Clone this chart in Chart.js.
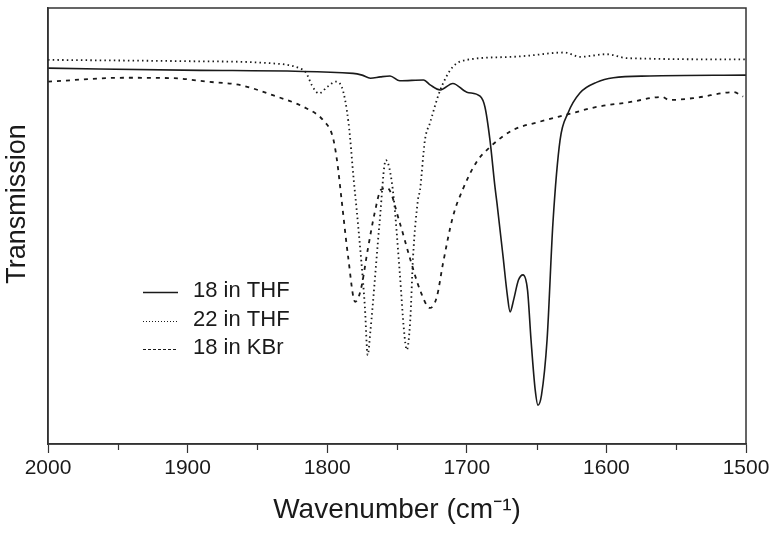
<!DOCTYPE html>
<html>
<head>
<meta charset="utf-8">
<script src="https://cdn.jsdelivr.net/npm/chart.js@4.4.1/dist/chart.umd.min.js"></script>
<style>
  html, body { margin: 0; padding: 0; background: #fff; }
  #wrap { width: 780px; height: 533px; }
</style>
</head>
<body>
<div id="wrap"><canvas id="ir"></canvas></div>
<script>
// IR spectra (transmission in arbitrary units, 0 = bottom of frame, 100 = top)
const labels = ['18 in THF', '22 in THF', '18 in KBr'];
const xTicks = [2000, 1900, 1800, 1700, 1600, 1500];

const thf18Wn = [2000, 1891, 1781.5, 1775, 1769, 1762, 1755, 1748, 1731, 1726, 1719, 1710, 1700, 1690.5, 1687,
  1683.4, 1679.8, 1678.4, 1674, 1671, 1669, 1666.5, 1663, 1659.7, 1656.5, 1654, 1651, 1649, 1646.5, 1642.5,
  1638.3, 1633.2, 1627.5, 1619, 1606.7, 1595, 1569, 1500];
const thf18T = [86.2, 85.7, 85.0, 84.6, 83.9, 84.2, 84.4, 83.3, 83.5, 82.3, 81.2, 82.7, 80.7, 79.8, 77.3,
  69.7, 58.9, 55.3, 42.9, 34.2, 30.3, 33.0, 37.6, 38.8, 35.3, 23.9, 12.4, 8.9, 11.2, 23.9,
  50.7, 69.7, 75.9, 80.5, 83.0, 84.0, 84.4, 84.6];

const thf22Wn = [2000, 1900, 1839, 1820, 1815, 1811, 1806, 1800, 1794, 1789.7, 1784.7, 1781, 1778, 1773, 1771,
  1769, 1767.5, 1762.5, 1758, 1753, 1748, 1745, 1743, 1740.5, 1738.5, 1735, 1733.5, 1730, 1726.4, 1719,
  1710, 1700, 1667, 1655, 1630, 1619, 1600, 1585, 1500];
const thf22T = [88.1, 87.8, 87.3, 86.2, 85.1, 82.3, 80.4, 81.9, 83.1, 82.0, 73.6, 60.6, 50.7, 31.4, 20.4,
  26.1, 31.4, 50.7, 65.1, 58.3, 39.2, 26.1, 21.6, 28.4, 42.9, 56.0, 58.3, 69.7, 73.6, 81.2,
  86.5, 88.1, 88.8, 89.1, 89.8, 88.8, 89.4, 88.5, 88.2];

const kbr18Wn = [2000, 1946, 1910, 1886, 1862, 1839, 1815, 1803, 1796, 1793, 1789.7, 1785, 1780, 1776, 1771,
  1766, 1761.5, 1757, 1748, 1741, 1733.5, 1726.4, 1721.5, 1717, 1710, 1703, 1693, 1683.4, 1667, 1648,
  1629, 1607, 1583.5, 1560, 1555, 1536, 1509, 1502];
const kbr18T = [83.1, 84.0, 83.9, 83.1, 82.3, 80.0, 77.0, 74.3, 70.4, 65.1, 56.0, 42.9, 32.6, 35.3, 44.5,
  53.0, 58.3, 58.7, 50.7, 42.9, 35.3, 31.2, 33.7, 41.5, 52.1, 58.3, 64.7, 68.1, 72.0, 73.9,
  75.5, 77.3, 78.4, 79.6, 78.9, 79.4, 80.7, 79.7];

const toPts = (xs, ys) => xs.map((x, i) => ({ x: x, y: ys[i] }));

const FONT = '"Liberation Sans", Arial, sans-serif';
const INK = '#1a1a1a';

// frame, minor ticks, y title and the in-plot legend
const extras = {
  id: 'extras',
  afterDraw(chart) {
    const { ctx, chartArea: a, scales } = chart;
    ctx.save();
    ctx.strokeStyle = '#333';
    ctx.lineWidth = 1.5;
    ctx.strokeRect(a.left, a.top, a.right - a.left, a.bottom - a.top);

    // minor ticks every 50
    ctx.lineWidth = 1.2;
    for (let v = 1950; v > 1500; v -= 100) {
      const px = Math.round(scales.x.getPixelForValue(v)) + 0.5;
      ctx.beginPath();
      ctx.moveTo(px, a.bottom);
      ctx.lineTo(px, a.bottom + 6);
      ctx.stroke();
    }

    // y title (sits a bit above the middle in the original)
    ctx.fillStyle = INK;
    ctx.font = '27px ' + FONT;
    ctx.textAlign = 'center';
    ctx.textBaseline = 'middle';
    ctx.translate(18, 204);
    ctx.rotate(-Math.PI / 2);
    ctx.fillText('Transmission', 0, 0);
    ctx.setTransform(1, 0, 0, 1, 0, 0);

    // legend
    const dashes = [[], [1, 2], [3, 2]];
    const rows = [292, 321, 349];
    ctx.font = '22px ' + FONT;
    ctx.textAlign = 'left';
    chart.data.datasets.forEach((ds, i) => {
      ctx.strokeStyle = INK;
      ctx.lineWidth = i === 0 ? 1.5 : 1.2;
      ctx.setLineDash(dashes[i]);
      ctx.beginPath();
      ctx.moveTo(143, rows[i] + 0.5);
      ctx.lineTo(178, rows[i] + 0.5);
      ctx.stroke();
      ctx.setLineDash([]);
      ctx.fillText(ds.label, 193, rows[i] - 1);
    });
    ctx.restore();
  }
};

new Chart(document.getElementById('ir'), {
  type: 'line',
  data: {
    datasets: [
      { label: labels[0], data: toPts(thf18Wn, thf18T), borderColor: INK, borderWidth: 1.6 },
      { label: labels[1], data: toPts(thf22Wn, thf22T), borderColor: INK, borderWidth: 1.8, borderDash: [1.5, 3.2] },
      { label: labels[2], data: toPts(kbr18Wn, kbr18T), borderColor: INK, borderWidth: 1.8, borderDash: [4, 5] }
    ]
  },
  options: {
    responsive: true,
    maintainAspectRatio: false,
    animation: false,
    layout: { padding: { top: 8, right: 34, left: 0, bottom: 0 } },
    elements: {
      point: { radius: 0 },
      line: { cubicInterpolationMode: 'monotone', fill: false }
    },
    plugins: { legend: { display: false }, tooltip: { enabled: false } },
    scales: {
      x: {
        type: 'linear',
        reverse: true,
        min: 1500,
        max: 2000,
        afterBuildTicks: s => { s.ticks = xTicks.map(v => ({ value: v })); },
        afterFit: s => { s.height = 89; },
        border: { display: true, color: '#333', width: 1.5 },
        grid: { display: true, drawOnChartArea: false, drawTicks: true, tickLength: 9, tickColor: '#333', tickWidth: 1.2 },
        ticks: { color: INK, font: { family: FONT, size: 21 }, padding: 3, maxRotation: 0, callback: v => String(v) },
        title: { display: true, text: 'Wavenumber (cm⁻¹)', color: INK, font: { family: FONT, size: 28 }, padding: { top: 2, bottom: 6 } }
      },
      y: {
        min: 0,
        max: 100,
        afterFit: s => { s.width = 48; },
        border: { display: true, color: '#333', width: 1.5 },
        grid: { display: false },
        ticks: { display: false },
        title: { display: false }
      }
    }
  },
  plugins: [extras]
});
</script>
</body>
</html>
